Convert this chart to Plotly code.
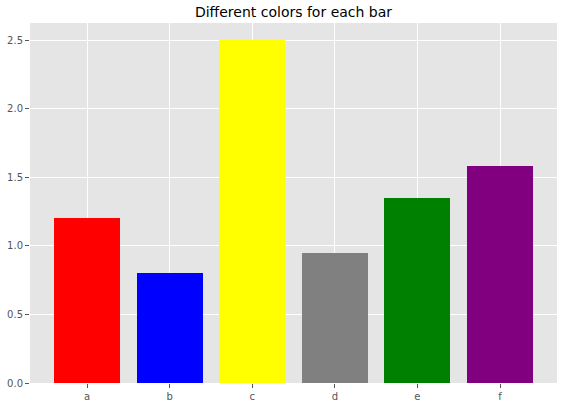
import plotly.graph_objects as go

categories = ['a', 'b', 'c', 'd', 'e', 'f']
values = [1.2, 0.8, 2.5, 0.95, 1.35, 1.58]
colors = ['red', 'blue', 'yellow', 'gray', 'green', 'purple']

fig = go.Figure()

fig.add_trace(go.Bar(
    x=list(range(len(categories))), y=values, width=0.8,
    marker=dict(color=colors, line=dict(width=0)),
    showlegend=False
))

# ggplot-ish look
fig.update_layout(
    title=dict(text='Different colors for each bar', x=0.5, xref='paper', xanchor='center',
               y=0.97, yref='container', yanchor='middle',
               font=dict(family='DejaVu Sans', size=14, color='black')),
    plot_bgcolor='#E5E5E5',
    paper_bgcolor='white',
    font=dict(family='DejaVu Sans', size=10, color='#555555'),
    margin=dict(l=30, r=7, t=23, b=23, autoexpand=False),
    width=564, height=406,
    bargap=0,
    xaxis=dict(tickmode='array', tickvals=list(range(len(categories))), ticktext=categories,
               range=[-0.69, 5.69], showgrid=True, gridcolor='white', gridwidth=1, automargin=False,
               ticks='outside', ticklen=4, tickcolor='#555555', zeroline=False, showline=False),
    yaxis=dict(range=[0, 2.625], dtick=0.5, tickformat='.1f', showgrid=True, gridcolor='white', gridwidth=1,
               automargin=False, ticks='outside', ticklen=4, tickcolor='#555555', zeroline=False, showline=False),
)

# drop the default page margin so the figure sits at the window's corner
fig.write_html("out.html", config={'displayModeBar': False},
               post_script="document.body.style.margin='0';")
